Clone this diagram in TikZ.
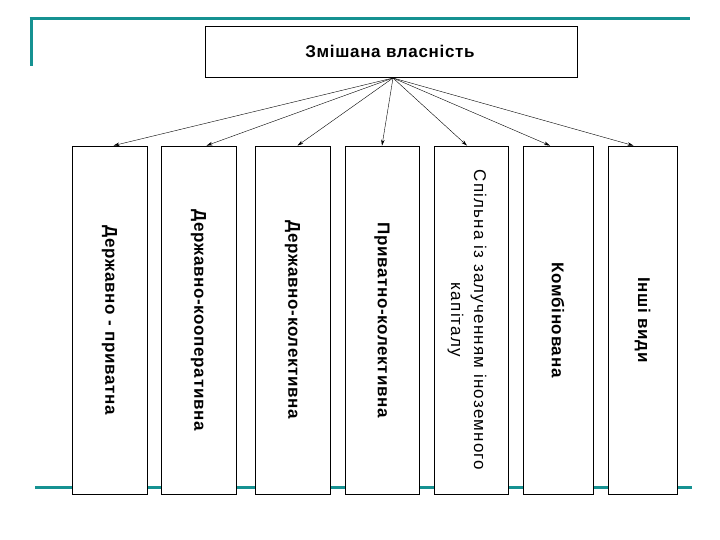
\documentclass[tikz,border=0pt]{standalone}
\usepackage{fontspec}
\setmainfont{Liberation Sans}
\newfontfamily\spaced[LetterSpace=4]{Liberation Sans}
\newfontfamily\spacedw[LetterSpace=7]{Liberation Sans}
\usetikzlibrary{arrows.meta}
\definecolor{teal1}{RGB}{22,146,146}
\tikzset{
  x=1pt, y=-1pt,
  frame/.style={draw=teal1, line width=3pt},
  topbox/.style={draw=black, line width=0.8pt, fill=white, minimum width=372pt, minimum height=51pt, inner sep=0pt},
  colbox/.style={draw=black, line width=0.8pt, fill=white, minimum height=348pt, inner sep=0pt},
  lbl/.style={font=\spacedw\fontsize{17}{23}\selectfont, rotate=-90, align=center, inner sep=0pt},
  lblb/.style={lbl, font=\spaced\fontsize{17}{23}\selectfont\bfseries},
  fan/.style={line width=0.4pt, -{Stealth[length=6pt,width=3.5pt]}}
}
\begin{document}
\begin{tikzpicture}
\useasboundingbox (0,0) rectangle (720,540);
% frame lines
\draw[frame] (31,19) -- (31,66);
\draw[frame] (29.5,19) -- (690,19);
\draw[frame] (35,487) -- (692,487);
% top box
\node[topbox] (top) at (391,51.5) {};
\node[font=\spaced\fontsize{17}{20}\selectfont\bfseries, inner sep=0pt] (toptext) at (390,51) {Змішана власність};
\coordinate (src) at (393,78);
% columns
\node[colbox, minimum width=75pt] (c1) at (109.5,320) {};
\node[colbox, minimum width=75pt] (c2) at (198.5,320) {};
\node[colbox, minimum width=75pt] (c3) at (292.5,320) {};
\node[colbox, minimum width=74pt] (c4) at (382,320) {};
\node[colbox, minimum width=74pt] (c5) at (471,320) {};
\node[colbox, minimum width=70pt] (c6) at (558,320) {};
\node[colbox, minimum width=69pt] (c7) at (642.5,320) {};
% labels
\node[lblb] (t1) at (c1) {Державно - приватна};
\node[lblb] (t2) at (c2) {Державно-кооперативна};
\node[lblb] (t3) at (c3) {Державно-колективна};
\node[lblb] (t4) at (c4) {Приватно-колективна};
\node[lbl] (t5) at ([xshift=-4pt]c5.center) {Спільна із залученням іноземного\\капіталу};
\node[lblb] (t6) at (c6) {Комбінована};
\node[lblb] (t7) at (c7) {Інші види};
% connectors
\draw[fan] (src) -- ([xshift=4pt]c1.north);
\draw[fan] (src) -- ([xshift=8pt]c2.north);
\draw[fan] (src) -- ([xshift=5pt]c3.north);
\draw[fan] (src) -- (c4.north);
\draw[fan] (src) -- ([xshift=-4pt]c5.north);
\draw[fan] (src) -- ([xshift=-8pt]c6.north);
\draw[fan] (src) -- ([xshift=-9pt]c7.north);
\end{tikzpicture}
\end{document}
